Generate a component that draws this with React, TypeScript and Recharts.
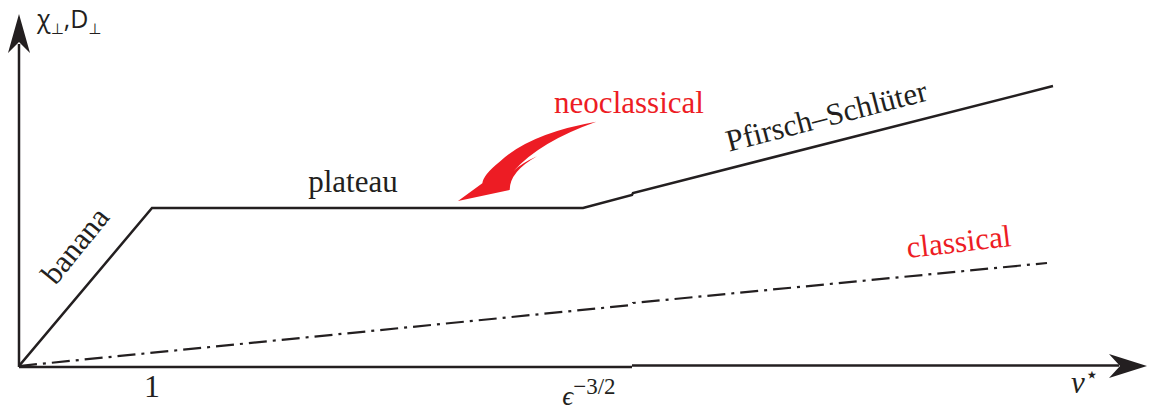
import { LineChart, Line, XAxis, YAxis, ReferenceLine, ReferenceDot } from 'recharts';

const INK = '#231f20';
const RED = '#ed1c24';
const SERIF = '"Liberation Serif", "DejaVu Serif", serif';
const SANS = '"Open Sans", "DejaVu Sans", sans-serif';

// schematic transport regimes, arbitrary units (origin = corner of the axes)
const nuNeo = [0, 133, 564, 613, 614, 1034];
const chiNeo = [0, 158, 158, 171, 173, 280];
const nuClassical = [0, 613, 614, 1028];
const chiClassical = [0, 61, 63, 103];

const tickValues = [133, 564];
const tickLabels = ['1', 'eps'];

const regimeNames = ['banana', 'plateau', 'neoclassical', 'Pfirsch–Schlüter', 'classical'];
const regimeColors = [INK, INK, RED, INK, RED];

const neoData = nuNeo.map((nu, i) => ({ nu, chi: chiNeo[i] }));
const classicalData = nuClassical.map((nu, i) => ({ nu, chi: chiClassical[i] }));

// where each regime name sits (data coords) and its tilt
const labelSpots = [
  { x: 64, y: 114, angle: -51 },
  { x: 334, y: 174, angle: 0 },
  { x: 610, y: 253, angle: 0 },
  { x: 810, y: 240, angle: -14.5 },
  { x: 941, y: 114, angle: -6.6 },
];

const AxisTick = (props: any) => {
  const { x, y, payload } = props;
  const label = tickLabels[tickValues.indexOf(payload.value)];
  if (label === 'eps') {
    return (
      <text x={x + 6} y={y + 31} textAnchor="middle" fill={INK} fontFamily={SERIF} fontSize={27}>
        <tspan fontStyle="italic">ϵ</tspan>
        <tspan fontSize={23} dy={-11}>−3/2</tspan>
      </text>
    );
  }
  return (
    <text x={x} y={y + 23} textAnchor="middle" fill={INK} fontFamily={SERIF} fontSize={32}>
      {label}
    </text>
  );
};

const regimeLabel = (i: number) => (p: any) => (
  <text
    x={p.cx}
    y={p.cy}
    textAnchor="middle"
    fill={regimeColors[i]}
    fontFamily={SERIF}
    fontSize={31}
    transform={`rotate(${labelSpots[i].angle} ${p.cx} ${p.cy})`}
  >
    {regimeNames[i]}
  </text>
);

// red curved pointer next to "neoclassical"
const swoosh = (p: any) => (
  <g transform={`translate(${p.cx} ${p.cy}) scale(0.3333) translate(-25 -258)`}>
    <path
      d="M 440 20 Q 240 55 150 140 Q 100 180 98 205 L 25 258 L 180 225 Q 180 170 262 124 Q 215 145 192 168 Q 270 80 440 20 Z"
      fill={RED}
    />
  </g>
);

const xArrow = (p: any) => (
  <polygon
    points={`${p.cx},${p.cy} ${p.cx - 38},${p.cy - 12} ${p.cx - 27},${p.cy} ${p.cx - 38},${p.cy + 12}`}
    fill={INK}
  />
);

const yArrow = (p: any) => (
  <polygon
    points={`${p.cx},${p.cy} ${p.cx + 11},${p.cy + 39} ${p.cx},${p.cy + 28} ${p.cx - 11},${p.cy + 39}`}
    fill={INK}
  />
);

export default function App() {
  return (
    <div style={{ position: 'absolute', left: 0, top: 0, background: '#fff' }}>
      <LineChart width={1156} height={412} margin={{ top: 14, right: 9, bottom: 0, left: 19 }}>
        <XAxis
          dataKey="nu"
          type="number"
          domain={[0, 1128]}
          allowDataOverflow
          ticks={tickValues}
          tick={<AxisTick />}
          axisLine={false}
          tickLine={false}
          height={46}
        />
        <YAxis type="number" domain={[0, 352]} allowDataOverflow hide />

        {/* axes */}
        <ReferenceLine
          segment={[{ x: 0, y: -1 }, { x: 613, y: -1 }]}
          stroke={INK}
          strokeWidth={2.5}
          ifOverflow="visible"
        />
        <ReferenceLine
          segment={[{ x: 613, y: 0.5 }, { x: 1100, y: 0.5 }]}
          stroke={INK}
          strokeWidth={2.5}
          ifOverflow="visible"
        />
        <ReferenceLine
          segment={[{ x: 0, y: -1 }, { x: 0, y: 322 }]}
          stroke={INK}
          strokeWidth={2.5}
          ifOverflow="visible"
        />
        <ReferenceDot x={1128} y={0} r={0} shape={xArrow} ifOverflow="visible" />
        <ReferenceDot x={0} y={352} r={0} shape={yArrow} ifOverflow="visible" />

        <Line
          data={neoData}
          dataKey="chi"
          type="linear"
          stroke={INK}
          strokeWidth={2.5}
          dot={false}
          isAnimationActive={false}
        />
        <Line
          data={classicalData}
          dataKey="chi"
          type="linear"
          stroke={INK}
          strokeWidth={2.2}
          strokeDasharray="18 6 3 6"
          dot={false}
          isAnimationActive={false}
        />

        {labelSpots.map((s, i) => (
          <ReferenceDot key={regimeNames[i]} x={s.x} y={s.y} r={0} shape={regimeLabel(i)} ifOverflow="visible" />
        ))}
        <ReferenceDot x={439} y={165} r={0} shape={swoosh} ifOverflow="visible" />

        {/* axis names */}
        <ReferenceDot
          x={1066}
          y={-27}
          r={0}
          ifOverflow="visible"
          shape={(p: any) => (
            <text x={p.cx} y={p.cy} textAnchor="middle" fill={INK} fontFamily={SERIF} fontSize={31}>
              <tspan fontStyle="italic">ν</tspan>
              <tspan fontSize={22} dy={-11}>⋆</tspan>
            </text>
          )}
        />
        <ReferenceDot
          x={18}
          y={338}
          r={0}
          ifOverflow="visible"
          shape={(p: any) => (
            <text x={p.cx} y={p.cy} fill={INK} fontFamily={SANS} fontSize={25}>
              χ<tspan fontSize={15} dy={6}>⊥</tspan>
              <tspan dy={-6}>,D</tspan>
              <tspan fontSize={15} dy={6}>⊥</tspan>
            </text>
          )}
        />
      </LineChart>
    </div>
  );
}
